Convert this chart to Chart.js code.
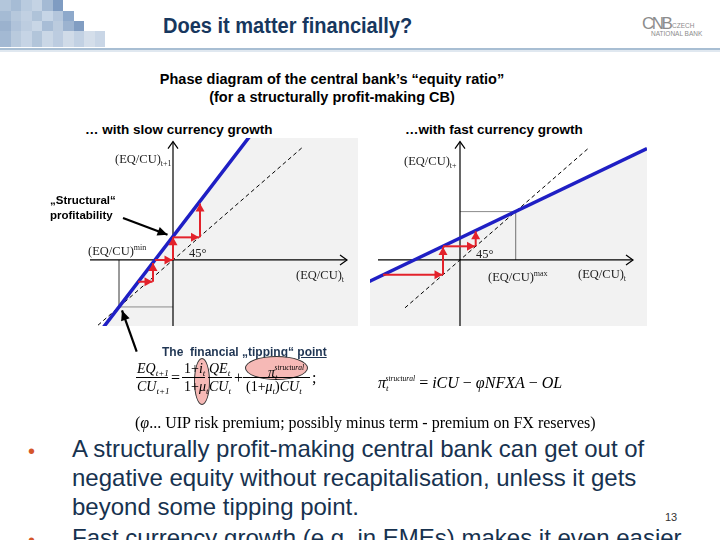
<!DOCTYPE html>
<html>
<head>
<meta charset="utf-8">
<script src="https://cdn.jsdelivr.net/npm/chart.js"></script>
<style>
  html, body { margin: 0; padding: 0; background: #fff; }
  #slide { position: relative; width: 720px; height: 540px; overflow: hidden;
    font-family: "Liberation Sans", Arial, sans-serif; color: #000; }
  .abs { position: absolute; white-space: nowrap; }
  .serif { font-family: "Liberation Serif", "Times New Roman", serif; }
  .math { font-family: "Liberation Serif", "Times New Roman", serif; font-style: italic; font-size: 14px; line-height: 14px; }
  .big { font-size: 16px; line-height: 16px; }
  .up { font-style: normal; }
  .sub { font-size: 9px; vertical-align: -3px; }
  .sup { font-size: 7.5px; vertical-align: 7px; }
  .bar { position: absolute; height: 1px; background: #000; }
  .lbl { font-family: "Liberation Serif", "Times New Roman", serif; font-size: 12.5px; color: #222; line-height: 14px; }
  .lbl .sub { font-size: 8px; vertical-align: -3px; }
  .lbl .sup { font-size: 8px; vertical-align: 5px; }
  .bullet { font-size: 24px; line-height: 29px; color: #17324f; }
  .dot { color: #d5562a; font-size: 20px; }
  .ell { position: absolute; border-radius: 50%; background: #f6b9b6; border: 1px solid #333; }
  .chartbox { position: absolute; }
</style>
</head>
<body>
<div id="slide">
  <div id="mosaic"></div>
  <div class="abs" style="left:0;top:48px;width:720px;height:2px;background:#a8bed3;"></div>
  <div class="abs" style="left:0;top:50px;width:720px;height:2px;background:#e0e8f0;"></div>

  <div class="abs" style="left:163px;top:13px;font-family:'Liberation Sans Narrow','Liberation Sans',Arial,sans-serif;font-weight:bold;font-size:22px;color:#17375e;transform:scaleX(0.91);transform-origin:left top;">Does it matter financially?</div>

  <div class="abs" style="left:642px;top:14px;font-size:17px;color:#8c8c8c;letter-spacing:-2.5px;">CNB</div>
  <div class="abs" style="left:672px;top:22px;font-size:6.5px;color:#8c8c8c;">CZECH</div>
  <div class="abs" style="left:651px;top:30px;font-size:6.5px;color:#8c8c8c;">NATIONAL BANK</div>

  <div class="abs" style="left:0;width:664px;top:70px;text-align:center;font-weight:bold;font-size:14.5px;line-height:18px;">Phase diagram of the central bank’s “equity ratio”<br>(for a structurally profit-making CB)</div>

  <div class="abs" style="left:85px;top:122px;font-weight:bold;font-size:13.5px;">… with slow currency growth</div>
  <div class="abs" style="left:405px;top:122px;font-weight:bold;font-size:13.5px;">…with fast currency growth</div>

  <div class="chartbox" style="left:40px;top:130px;width:330px;height:230px;"><canvas id="slowChart"></canvas></div>
  <div class="chartbox" style="left:370px;top:138px;width:277px;height:188px;"><canvas id="fastChart"></canvas></div>

  <!-- axis labels, left panel -->
  <div class="abs lbl" style="left:115px;top:152px;">(EQ/CU)<span class="sub">t+1</span></div>
  <div class="abs lbl" style="left:88px;top:241px;">(EQ/CU)<span class="sup">min</span></div>
  <div class="abs lbl" style="left:189px;top:246px;">45°</div>
  <div class="abs lbl" style="left:296px;top:268px;">(EQ/CU)<span class="sub">t</span></div>
  <!-- axis labels, right panel -->
  <div class="abs lbl" style="left:404px;top:154px;">(EQ/CU)<span class="sub">t+</span></div>
  <div class="abs lbl" style="left:476px;top:247px;">45°</div>
  <div class="abs lbl" style="left:488px;top:267px;">(EQ/CU)<span class="sup">max</span></div>
  <div class="abs lbl" style="left:578px;top:267px;">(EQ/CU)<span class="sub">t</span></div>

  <div class="abs" style="left:50px;top:193px;font-weight:bold;font-size:11.5px;line-height:15px;">„Structural“<br>profitability</div>
  <div class="abs" style="left:162px;top:345px;font-weight:bold;font-size:12px;color:#1f3553;">The&nbsp; financial „tipping“ <span style="text-decoration:underline;">point</span></div>

  <!-- equation -->
  <div class="ell" style="left:194px;top:358px;width:14px;height:45px;"></div>
  <div class="ell" style="left:245px;top:356px;width:61px;height:22px;"></div>
  <div class="abs math" style="left:137px;top:362px;">EQ<span class="sub">t+1</span></div>
  <div class="bar" style="left:136px;top:377px;width:32px;"></div>
  <div class="abs math" style="left:137px;top:380px;">CU<span class="sub">t+1</span></div>
  <div class="abs math up" style="left:171px;top:371px;font-size:16px;">=</div>
  <div class="abs math" style="left:184px;top:362px;"><span class="up">1+</span>i<span class="sub">t</span></div>
  <div class="bar" style="left:182px;top:377px;width:23px;"></div>
  <div class="abs math" style="left:184px;top:380px;"><span class="up">1+</span>μ<span class="sub">t</span></div>
  <div class="abs math" style="left:209px;top:362px;">QE<span class="sub">t</span></div>
  <div class="bar" style="left:208px;top:377px;width:24px;"></div>
  <div class="abs math" style="left:209px;top:380px;">CU<span class="sub">t</span></div>
  <div class="abs math up" style="left:234px;top:371px;font-size:16px;">+</div>
  <div class="abs math" style="left:268px;top:361px;">π<span class="sub">t</span><span class="sup" style="margin-left:-3px;">structural</span></div>
  <div class="bar" style="left:243px;top:377px;width:67px;"></div>
  <div class="abs math" style="left:246px;top:380px;"><span class="up">(1+</span>μ<span class="sub">t</span><span class="up">)</span>CU<span class="sub">t</span></div>
  <div class="abs math up" style="left:312px;top:371px;font-size:16px;">;</div>
  <div class="abs math big" style="left:378px;top:371px;">π<span class="sub">t</span><span class="sup" style="margin-left:-3px;">structural</span><span class="up"> = </span>iCU<span class="up"> − </span>φNFXA<span class="up"> − </span>OL</div>

  <div class="abs serif" style="left:135px;top:414px;font-size:16px;">(<i>φ</i>... UIP risk premium; possibly minus term - premium on FX reserves)</div>

  <div class="abs bullet" style="left:28px;top:435px;"><span class="dot">•</span></div>
  <div class="abs bullet" style="left:72px;top:434px;">A structurally profit-making central bank can get out of<br>negative equity without recapitalisation, unless it gets<br>beyond some tipping point.</div>
  <div class="abs bullet" style="left:28px;top:524px;"><span class="dot">•</span></div>
  <div class="abs bullet" style="left:72px;top:523px;">Fast currency growth (e.g. in EMEs) makes it even easier</div>
  <div class="abs" style="left:665px;top:511px;font-size:11px;color:#333;">13</div>
</div>

<script>
  // Slow currency growth panel (x = (EQ/CU)t, y = (EQ/CU)t+1)
  const slowCurve = [{ x: -7.3, y: -8.25 }, { x: 8.2, y: 15.0 }, { x: 19, y: 15.0 }];
  const slowDiagonal = [{ x: -7.5, y: -7.5 }, { x: 13, y: 13 }];
  const slowAxisX = [{ x: -8.3, y: 0 }, { x: 17.4, y: 0 }];
  const slowAxisY = [{ x: 0, y: -7.6 }, { x: 0, y: 13.6 }];
  const slowGuide = [{ x: -5.4, y: 0 }, { x: -5.4, y: -5.4 }, { x: 0, y: -5.4 }];
  const slowSteps = [
    [{ x: -3.5, y: -2.5 }, { x: -2.05, y: -2.5 }],
    [{ x: -2.0, y: -2.5 }, { x: -2.0, y: -0.35 }],
    [{ x: -1.8, y: 0 }, { x: -0.05, y: 0 }],
    [{ x: 0, y: 0 }, { x: 0, y: 2.6 }],
    [{ x: 0, y: 2.6 }, { x: 2.6, y: 2.6 }],
    [{ x: 2.7, y: 2.6 }, { x: 2.7, y: 6.5 }],
  ];
  const structuralPointer = [{ x: -5.0, y: 4.83 }, { x: -0.55, y: 2.9 }];
  const tippingPointer = [{ x: -3.63, y: -10.54 }, { x: -5.1, y: -5.8 }];

  // Fast currency growth panel
  const fastCurve = [{ x: -9.3, y: -2.6 }, { x: 18.7, y: 12.8 }];
  const fastDiagonal = [{ x: -5.5, y: -5.5 }, { x: 12.8, y: 12.8 }];
  const fastAxisX = [{ x: -8.2, y: 0 }, { x: 17.3, y: 0 }];
  const fastAxisY = [{ x: 0, y: -7.6 }, { x: 0, y: 13.6 }];
  const fastGuide = [{ x: 0, y: 5.56 }, { x: 5.56, y: 5.56 }, { x: 5.56, y: 0 }];
  const fastSteps = [
    [{ x: -7.7, y: -1.7 }, { x: -1.75, y: -1.7 }],
    [{ x: -1.7, y: -1.7 }, { x: -1.7, y: 1.5 }],
    [{ x: -1.7, y: 1.57 }, { x: 1.5, y: 1.57 }],
    [{ x: 1.57, y: 1.57 }, { x: 1.57, y: 3.3 }],
  ];

  const Y_RANGE = [-7.59, 14.02];
  const BLUE = '#1f1fc4';
  const RED = '#e3222b';
  const SHADE = '#f2f2f2';

  // header mosaic shades, one row per band
  const mosaicRows = [
    { top: 0, h: 11, cells: ['#b3c6db', '#a6bcd5', '#b9cbdf', '#c4d3e4', '#a4bad4', '#7f9cc2'] },
    { top: 11, h: 10, cells: ['#a5bbd4', '#b6c8dc', '#c1d0e2', '#afc3d9', '#c6d5e6', '#b4c6dc', '#8ea9cb'] },
    { top: 21, h: 10, cells: ['#9bb2ce', '#b0c3da', '#bdcde0', '#c8d6e6', '#a8bdd6', '#bbcbde', '#9cb3d0', '#819dc2'] },
    { top: 31, h: 16, cells: ['#a3b9d3', '#b9cadd', '#c6d4e5', '#b2c5da', '#cad7e6', '#bccce0', '#d0dbe8', '#c2d1e3', '#d4deea', '#c9d6e6'] },
  ];

  (function buildMosaic() {
    const host = document.getElementById('mosaic');
    mosaicRows.forEach((row) => {
      row.cells.forEach((color, index) => {
        const cell = document.createElement('div');
        cell.className = 'abs';
        cell.style.cssText = `left:${index * 10.5}px;top:${row.top}px;width:10.5px;height:${row.h}px;background:${color};`;
        host.appendChild(cell);
      });
    });
  })();

  /**
   * Draws an arrowhead at the last point of every dataset carrying a `head` setting.
   */
  const arrowHeads = {
    id: 'arrowHeads',
    afterDatasetsDraw(chart) {
      const ctx = chart.ctx;
      chart.data.datasets.forEach((dataset, index) => {
        if (!dataset.head) {
          return;
        }
        const points = chart.getDatasetMeta(index).data;
        const from = points[points.length - 2];
        const to = points[points.length - 1];
        const angle = Math.atan2(to.y - from.y, to.x - from.x);
        const { len, half, open } = dataset.head;
        ctx.save();
        ctx.translate(to.x, to.y);
        ctx.rotate(angle);
        ctx.beginPath();
        ctx.moveTo(-len, -half);
        ctx.lineTo(0, 0);
        ctx.lineTo(-len, half);
        if (open) {
          ctx.strokeStyle = dataset.borderColor;
          ctx.lineWidth = 1.2;
          ctx.stroke();
        } else {
          ctx.closePath();
          ctx.fillStyle = dataset.borderColor;
          ctx.fill();
        }
        ctx.restore();
      });
    },
  };

  function lineSet(data, extra) {
    return Object.assign({
      data,
      borderWidth: 1,
      borderColor: '#000',
      pointRadius: 0,
      fill: false,
      tension: 0,
    }, extra);
  }

  function buildDatasets(panel) {
    const sets = [
      lineSet(panel.curve, { borderColor: BLUE, borderWidth: 3.5, fill: 'start', backgroundColor: SHADE, order: 2 }),
      lineSet(panel.diagonal, { borderDash: [4, 3], order: 5 }),
      lineSet(panel.guide, { borderColor: '#8c8c8c', order: 6 }),
      lineSet(panel.axisX, { borderWidth: 1.2, head: { len: 7, half: 5, open: true }, order: 4 }),
      lineSet(panel.axisY, { borderWidth: 1.2, head: { len: 7, half: 5, open: true }, order: 4 }),
    ];
    panel.steps.forEach((step) => {
      sets.push(lineSet(step, { borderColor: RED, borderWidth: 2, head: { len: 8, half: 4.5 }, order: 1 }));
    });
    (panel.pointers || []).forEach((pointer) => {
      sets.push(lineSet(pointer, { borderWidth: 2.2, clip: false, head: { len: 10, half: 4.5 }, order: 0 }));
    });
    return sets;
  }

  function renderPanel(canvasId, panel, xRange, padding) {
    return new Chart(document.getElementById(canvasId), {
      type: 'line',
      data: { datasets: buildDatasets(panel) },
      options: {
        responsive: true,
        maintainAspectRatio: false,
        animation: false,
        layout: { padding },
        plugins: {
          legend: { display: false },
          tooltip: { enabled: false },
          filler: { drawTime: 'beforeDatasetsDraw' },
        },
        scales: {
          x: { type: 'linear', display: false, min: xRange[0], max: xRange[1] },
          y: { type: 'linear', display: false, min: Y_RANGE[0], max: Y_RANGE[1] },
        },
      },
      plugins: [arrowHeads],
    });
  }

  renderPanel('slowChart', {
    curve: slowCurve, diagonal: slowDiagonal, guide: slowGuide,
    axisX: slowAxisX, axisY: slowAxisY, steps: slowSteps,
    pointers: [structuralPointer, tippingPointer],
  }, [-8.3, 18.5], { left: 50, top: 8, right: 12, bottom: 34 });

  renderPanel('fastChart', {
    curve: fastCurve, diagonal: fastDiagonal, guide: fastGuide,
    axisX: fastAxisX, axisY: fastAxisY, steps: fastSteps,
  }, [-9.0, 18.7], { left: 0, top: 0, right: 0, bottom: 0 });
</script>
</body>
</html>
